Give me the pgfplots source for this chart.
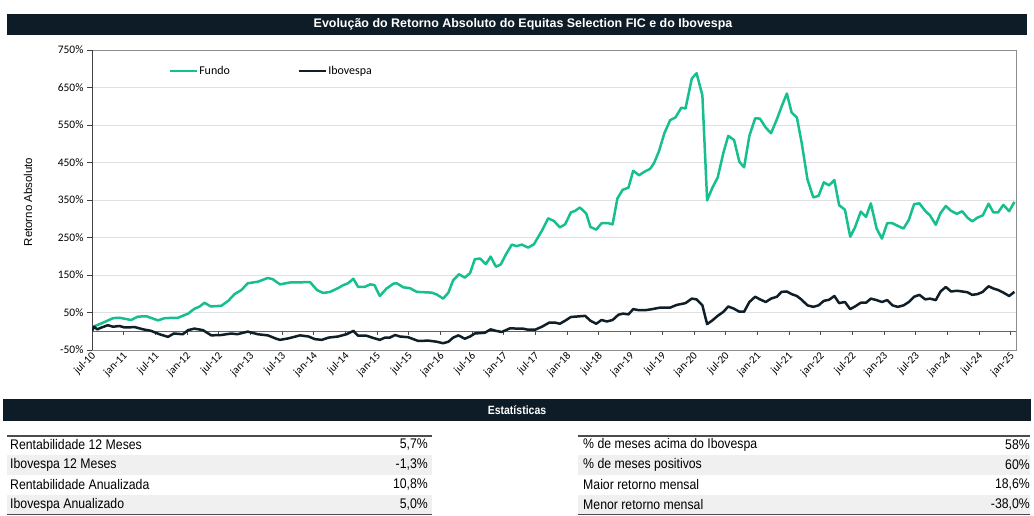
\documentclass[border=0pt]{standalone}
\usepackage{pgfplots}
\pgfplotsset{compat=1.18}
\usepackage{fontspec}
\setmainfont{Carlito}
\newfontfamily\arial{Liberation Sans}
\newfontfamily\narrow[FakeStretch=0.88]{Liberation Sans}
\definecolor{barc}{RGB}{13,28,38}
\definecolor{fundo}{RGB}{22,192,142}
\definecolor{ibov}{RGB}{16,30,40}
\definecolor{rowgray}{RGB}{240,240,240}

\pgfplotstableread{
m v
0.2 12
1.8 21
4 35
5.2 36
7.4 30
8.7 39
10.3 40
12.5 29
13.8 35
16.3 36
18.2 47
19.4 60
20.4 66
21.3 76
22.5 66
24.5 68
25.8 81
27 99
28.3 110
29.5 128
31.4 132
33.3 142
34.2 139
35.6 125
37.5 130
41.3 131
42.6 110
43.8 102
45.1 105
46.6 115
47.6 123
48.5 128
49.5 140
50.4 118
51.6 118
52.7 125
53.5 123
54.5 94
55.8 114
57.1 127
57.7 128
59 117
60.2 115
61.5 105
64.3 103
65.3 98
66.5 87
67.5 103
68.4 136
69.5 152
70.6 143
71.6 155
72.5 192
73.5 194
74.6 179
75.5 199
76.5 172
77.4 178
78.4 205
79.5 231
80.4 227
81.4 231
82.6 223
83.7 232
85.2 268
86.4 301
87.5 294
88.6 277
89.6 285
90.7 317
91.5 321
92.4 330
93.6 314
94.4 278
95.5 271
96.5 288
97.8 288
98.6 285
99.5 354
100.5 377
101.6 383
102.5 428
103.6 416
104.7 426
105.7 433
106.5 450
107.4 481
108.4 528
109.5 563
110.5 570
111.6 596
112.4 594
113.6 674
114.5 688
115.6 629
116.5 349
117.5 383
118.5 410
119.6 477
120.5 521
121.6 510
122.6 452
123.5 437
124.5 521
125.6 568
126.5 567
127.6 543
128.6 528
129.7 565
130.6 599
131.6 634
132.5 583
133.5 570
134.4 503
135.5 405
136.6 357
137.6 361
138.6 397
139.6 389
140.6 403
141.5 336
142.6 324
143.6 252
144.5 277
145.6 319
146.6 305
147.5 341
148.6 274
149.6 247
150.6 288
151.6 288
152.6 281
153.7 274
154.7 297
155.7 339
156.7 341
157.8 321
158.7 309
159.8 284
160.7 315
161.7 334
162.7 321
163.8 313
164.8 320
165.8 303
166.7 293
167.7 303
168.7 309
169.8 340
170.7 317
171.6 317
172.6 337
173.7 320
174.7 345
}\fundotable

\pgfplotstableread{
m v
0 1
0.4 12
1 5
1.8 10
3 16
4 12
5.2 14
6.2 10
8.1 11
9.7 5
11.2 1
12.8 -8
14.4 -15
15.5 -6
17.2 -8
18.2 3
19.4 7
21 3
22.6 -11
24.5 -10
26.4 -6
27.5 -8
29.5 -1
31.4 -8
33.3 -11
34.9 -20
35.6 -23
37.2 -19
39.4 -11
41 -14
42.2 -21
43.5 -23
44.8 -17
46.6 -14
48.2 -8
49.5 1
50.4 -12
52 -12
53.3 -18
54.5 -23
55.5 -17
56.4 -17
57.4 -10
58.3 -14
59.9 -16
61.8 -26
63.7 -25
65.3 -28
66.5 -32
67.5 -28
68.4 -17
69.4 -11
70.6 -20
71.6 -14
72.5 -6
74.4 -4
75.5 5
76.5 1
77.6 -2
79.2 8
80.4 7
81.6 7
82.6 4
83.9 4
85.2 12
86.6 23
87.7 23
88.6 20
89.6 28
90.7 38
93.4 41
94.4 28
95.5 20
96.5 30
97.5 26
98.6 30
99.7 44
100.6 47
101.6 45
102.5 59
103.6 56
104.7 56
105.7 58
107.6 63
109.5 63
110.7 70
112.4 75
113.6 87
114.5 85
115.6 69
116.5 19
117.5 29
118.5 41
119.6 52
120.5 66
121.6 60
122.6 52
123.5 52
124.5 78
125.6 92
126.5 85
127.6 78
128.6 87
129.7 92
130.6 105
131.6 106
132.5 99
133.5 94
134.4 84
135.5 69
136.6 65
137.6 69
138.6 81
139.6 84
140.6 94
141.5 75
142.6 78
143.6 59
144.5 66
145.6 76
146.6 76
147.5 87
148.6 83
149.6 78
150.6 83
151.6 69
152.6 65
153.7 69
154.7 78
155.7 92
156.7 97
157.8 85
158.7 87
159.8 83
160.7 106
161.7 118
162.7 106
163.8 108
164.8 106
165.8 104
166.7 97
167.7 99
168.7 105
169.8 120
170.7 114
171.6 110
172.6 103
173.7 94
174.7 105
}\ibovtable

\begin{document}
\begin{tikzpicture}[x=1bp,y=1bp]
\useasboundingbox (0,0) rectangle (1034,516);
\fill[white] (0,0) rectangle (1034,516);
% title bar
\fill[barc] (7,481) rectangle (1027,502);
\node[text=white, font=\arial\bfseries\fontsize{12.5}{14}\selectfont] at (523,491.5) {Evolução do Retorno Absoluto do Equitas Selection FIC e do Ibovespa};
% y label
\node[rotate=90, font=\arial\fontsize{11.5}{13}\selectfont] at (28,314) {Retorno Absoluto};

\begin{axis}[
  at={(92bp,166bp)}, anchor=south west,
  width=924bp, height=300bp, scale only axis,
  xmin=0, xmax=175, ymin=-50, ymax=750,
  axis line style={draw=black!45, line width=0.8bp},
  ytick={-50,50,...,750},
  yticklabel={\pgfmathtruncatemacro\tv{\tick}\tv\%},
  y tick label style={font=\fontsize{11.5}{13}\selectfont},
  ytick pos=left, tick align=outside, major tick length=5bp,
  ytick style={draw=black!75, line width=0.8bp},
  ymajorgrids, grid style={draw=black!12, line width=0.6bp},
  xtick={0,6,...,174},
  xticklabels={jul-10,jan-11,jul-11,jan-12,jul-12,jan-13,jul-13,jan-14,jul-14,jan-15,jul-15,jan-16,jul-16,jan-17,jul-17,jan-18,jul-18,jan-19,jul-19,jan-20,jul-20,jan-21,jul-21,jan-22,jul-22,jan-23,jul-23,jan-24,jul-24,jan-25},
  xtick style={draw=none},
  x tick label style={rotate=45, anchor=east, font=\fontsize{11}{12}\selectfont, inner sep=1bp, xshift=3bp, yshift=-1bp},
  legend columns=2,
  legend style={draw=none, fill=none, at={(axis description cs:0.0823,0.93)}, anchor=west, inner sep=0pt,
    font=\fontsize{12}{13}\selectfont, nodes={inner sep=1.5bp},
    /tikz/every even column/.append style={column sep=66bp}},
  legend cell align=left,
  legend image code/.code={\draw[#1] (0bp,0bp) -- (27bp,0bp);},
]
\draw[black!60, line width=0.9bp] (axis cs:0,0) -- (axis cs:175,0);
\pgfplotsinvokeforeach{0,6,...,174}{\draw[black!70, line width=0.8bp] (axis cs:#1,0) -- ([yshift=-4bp]axis cs:#1,0);}
\draw[black!75, line width=0.9bp] (axis description cs:0,0) -- (axis description cs:0,1);
\addplot[fundo, line width=2.5bp, line join=round] table[x=m, y=v] {\fundotable};
\addlegendentry{Fundo}
\addplot[ibov, line width=2.5bp, line join=round] table[x=m, y=v] {\ibovtable};
\addlegendentry{Ibovespa}
\end{axis}

% Estatisticas bar
\fill[barc] (3,95) rectangle (1031,117);
\node[text=white, font=\narrow\bfseries\fontsize{12}{13}\selectfont] at (517,106) {Estatísticas};

% table backgrounds
\fill[rowgray] (7,41) rectangle (432,61);
\fill[rowgray] (7,1) rectangle (432,21);
\fill[rowgray] (578,41) rectangle (1030,61);
\fill[rowgray] (578,1) rectangle (1030,21);
\draw[black!70, line width=1.3bp] (7,80) -- (432,80);
\draw[black!70, line width=1.3bp] (578,80) -- (1030,80);
\draw[black!70, line width=1.3bp] (7,1.5) -- (432,1.5);
\draw[black!70, line width=1.3bp] (578,1.5) -- (1030,1.5);

\begin{scope}[every node/.style={font=\narrow\fontsize{14}{15}\selectfont, inner sep=0pt}]
\node[anchor=west] at (10,71) {Rentabilidade 12 Meses};
\node[anchor=west] at (10,51) {Ibovespa 12 Meses};
\node[anchor=west] at (10,31) {Rentabilidade Anualizada};
\node[anchor=west] at (10,11) {Ibovespa Anualizado};
\node[anchor=east] at (428,71) {5,7\%};
\node[anchor=east] at (428,51) {-1,3\%};
\node[anchor=east] at (428,31) {10,8\%};
\node[anchor=east] at (428,11) {5,0\%};
\node[anchor=west] at (583,71) {\% de meses acima do Ibovespa};
\node[anchor=west] at (583,51) {\% de meses positivos};
\node[anchor=west] at (583,31) {Maior retorno mensal};
\node[anchor=west] at (583,11) {Menor retorno mensal};
\node[anchor=east] at (1030,71) {58\%};
\node[anchor=east] at (1030,51) {60\%};
\node[anchor=east] at (1030,31) {18,6\%};
\node[anchor=east] at (1030,11) {-38,0\%};
\end{scope}
\end{tikzpicture}
\end{document}
